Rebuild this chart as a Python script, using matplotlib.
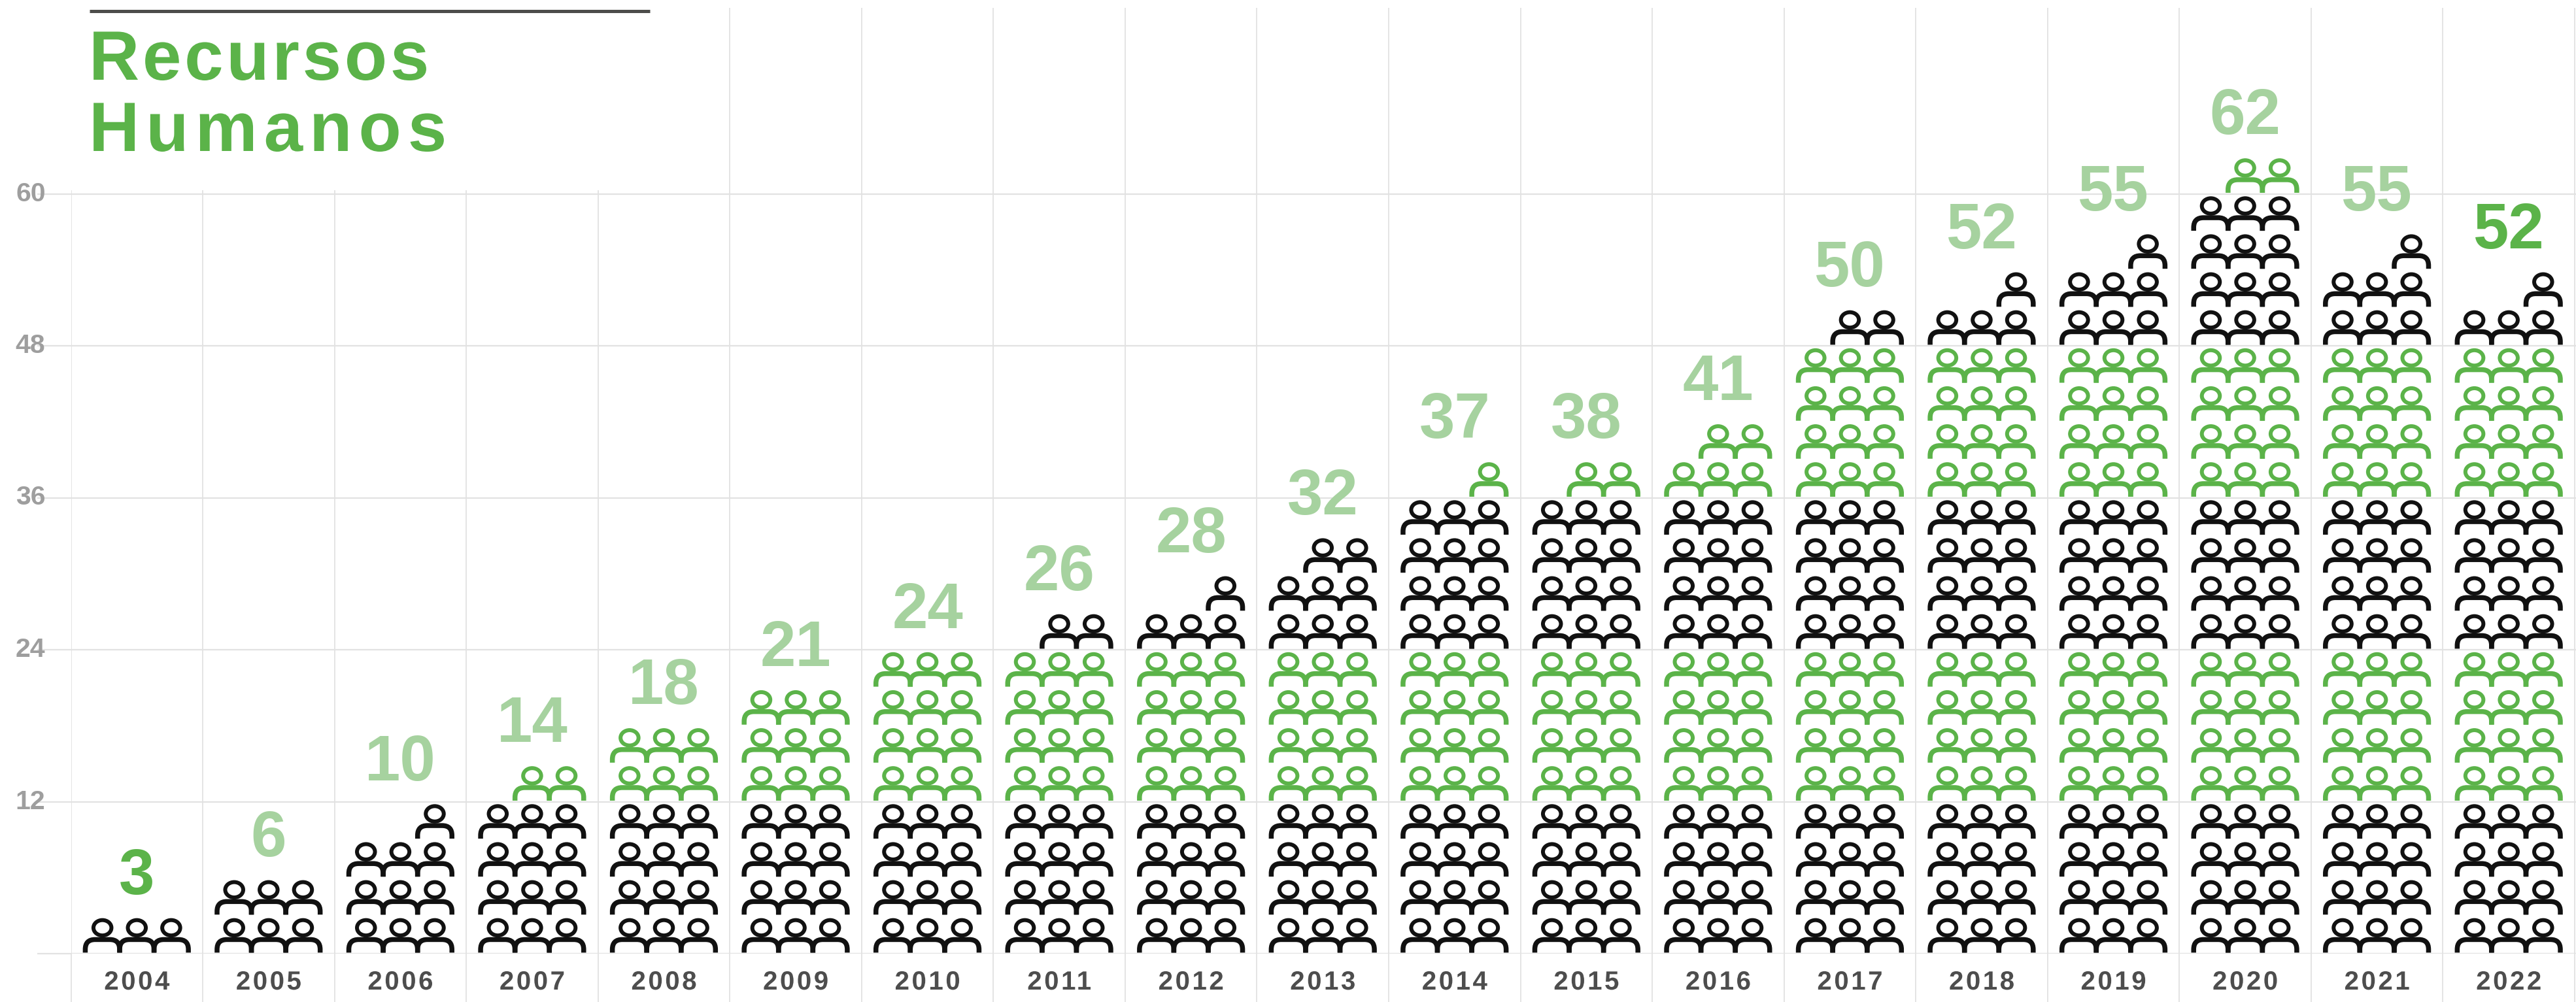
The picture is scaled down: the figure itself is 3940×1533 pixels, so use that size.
import matplotlib

matplotlib.use("Agg")

import matplotlib.pyplot as plt
from matplotlib.lines import Line2D
from matplotlib.patches import PathPatch, Rectangle
from matplotlib.path import Path
from matplotlib.patheffects import AbstractPathEffect
from matplotlib.transforms import Affine2D, IdentityTransform, ScaledTranslation
import numpy as np

YEARS = [2004, 2005, 2006, 2007, 2008, 2009, 2010, 2011, 2012, 2013,
         2014, 2015, 2016, 2017, 2018, 2019, 2020, 2021, 2022]
STAFF = [3, 6, 10, 14, 18, 21, 24, 26, 28, 32, 37, 38, 41, 50, 52, 55, 62, 55, 52]
HIGHLIGHT = [2004, 2022]
Y_TICKS = [0, 12, 24, 36, 48, 60]
Y_LABELS = ["", "12", "24", "36", "48", "60"]
TITLE_LINES = ["Recursos", "Humanos"]

WIDTH, HEIGHT = 3941, 1533
DPI = 100
PT = 72 / DPI

GREEN = "#5bb349"
LIGHT_GREEN = "#a6d29f"
BLACK = "#111111"
GRID = "#e2e2e2"
TICK_GREY = "#9e9e9e"
YEAR_GREY = "#4d4d4d"
FONT = "Liberation Sans"

PER_ROW = 3
ROWS_PER_BAND = 4

# axes box, in pixels of the output
LEFT, RIGHT = 108.5, 3941
BASE, TOP = 1459, 12
PX_PER_COL = 201.55
PX_PER_UNIT = 19.375


class LetterSpacing(AbstractPathEffect):
    # matplotlib has no tracking, so pull the glyphs of one text path apart
    def __init__(self, spacing, centered=False):
        super().__init__()
        self.spacing = spacing
        self.centered = centered

    def draw_path(self, renderer, gc, tpath, affine, rgbFace=None):
        vertices = affine.transform(tpath.vertices)
        codes = tpath.codes
        starts = list(np.flatnonzero(codes == Path.MOVETO)) + [len(codes)]
        # contours whose x ranges overlap belong to one glyph
        spans = []
        for a, b in zip(starts[:-1], starts[1:]):
            drawn = codes[a:b] != Path.CLOSEPOLY
            xs = vertices[a:b, 0][drawn]
            spans.append((xs.min(), xs.max(), a, b))
        spans.sort()
        glyph = -1
        reach = -np.inf
        moved = []
        for low, high, a, b in spans:
            if low > reach:
                glyph += 1
            reach = max(reach, high)
            moved.append((glyph, a, b))
        shift = glyph / 2 if self.centered else 0
        out = vertices.copy()
        for number, a, b in moved:
            out[a:b, 0] += (number - shift) * self.spacing
        renderer.draw_path(gc, Path(out, codes), IdentityTransform(), rgbFace)


def person_path():
    # one person in pixels, origin at the middle of the feet
    head = Path.unit_circle().transformed(
        Affine2D().scale(13.75, 11.75).translate(0, 38)
    )
    half, rise, corner = 26.25, 20, 15
    body = Path(
        [(-half, 0), (-half, rise - corner), (-half, rise), (-half + corner, rise),
         (half - corner, rise), (half, rise), (half, rise - corner), (half, 0)],
        [Path.MOVETO, Path.LINETO, Path.CURVE3, Path.CURVE3,
         Path.LINETO, Path.CURVE3, Path.CURVE3, Path.LINETO],
    )
    return head, body


def draw_people(axis, column, count):
    head, body = person_path()
    rows = int(np.ceil(count / PER_ROW))
    for row in range(rows):
        in_row = min(PER_ROW, count - row * PER_ROW)
        color = GREEN if (row // ROWS_PER_BAND) % 2 else BLACK
        for slot in range(PER_ROW - in_row, PER_ROW):
            x = column + 0.5 + (slot - 1) * 52.6 / PX_PER_COL
            y = row * PER_ROW + 0.08
            place = (
                Affine2D().scale(1 / PX_PER_COL, 1 / PX_PER_UNIT).translate(x, y)
                + axis.transData
            )
            for path, width in ((head, 6), (body, 7.5)):
                axis.add_patch(PathPatch(
                    path, transform=place, facecolor="none", edgecolor=color,
                    linewidth=width * PT, capstyle="butt", zorder=3,
                ))
    return rows * PER_ROW


figure = plt.figure(figsize=(WIDTH / DPI, HEIGHT / DPI), dpi=DPI, facecolor="white")
axis = figure.add_axes([
    LEFT / WIDTH,
    (HEIGHT - BASE) / HEIGHT,
    (RIGHT - LEFT) / WIDTH,
    (BASE - TOP) / HEIGHT,
])
axis.set_xlim(0, (RIGHT - LEFT) / PX_PER_COL)
axis.set_ylim(0, (BASE - TOP) / PX_PER_UNIT)
axis.set_axisbelow(True)
for spine in axis.spines.values():
    spine.set_visible(False)

positions = np.arange(len(YEARS))

# vertical grid runs on down to the picture's edge as long ticks
axis.set_xticks(np.arange(len(YEARS) + 1))
axis.set_xticklabels([])
axis.set_xticks(positions + 0.5, minor=True)
axis.set_xticklabels([str(y) for y in YEARS], minor=True, fontsize=29, family=FONT,
                     fontweight="bold", color=YEAR_GREY)
axis.tick_params(axis="x", which="major", length=(HEIGHT - BASE) * PT, width=1.3, color=GRID)
axis.tick_params(axis="x", which="minor", length=0, pad=25 * PT)
axis.grid(True, axis="x", which="major", color=GRID, linewidth=1.3)
for label in axis.get_xticklabels(minor=True):
    label.set_path_effects([LetterSpacing(3.5, centered=True)])

axis.set_yticks(Y_TICKS)
axis.set_yticklabels(Y_LABELS, fontsize=29.5, family=FONT, fontweight="bold", color=TICK_GREY)
axis.tick_params(axis="y", length=52 * PT, width=1.6, color=GRID, pad=-13 * PT)
axis.grid(True, axis="y", color=GRID, linewidth=1.6)
lift = ScaledTranslation(0, 4 / DPI, figure.dpi_scale_trans)
for label in axis.get_yticklabels():
    label.set_transform(label.get_transform() + lift)

# the title sits on a white box that hides the first grid lines
axis.add_patch(Rectangle((-0.1, 60.26), 4.5, 20, facecolor="white", edgecolor="none",
                         zorder=1, clip_on=False))

for index, (year, count) in enumerate(zip(YEARS, STAFF)):
    stack_top = draw_people(axis, index, count)
    axis.text(index + 0.5, stack_top + 1.7, str(count), ha="center", va="baseline",
              fontsize=70.5, family=FONT, fontweight="bold",
              color=GREEN if year in HIGHLIGHT else LIGHT_GREEN, zorder=4)

figure.add_artist(Line2D([137 / WIDTH, 994 / WIDTH], [1 - 16.5 / HEIGHT] * 2,
                         color="#4d4d4b", linewidth=5 * PT, solid_capstyle="butt"))
for line, baseline, tracking in zip(TITLE_LINES, (122, 231), (4.7, 10)):
    text = figure.text(136 / WIDTH, 1 - baseline / HEIGHT, line, fontsize=77, family=FONT,
                       fontweight="bold", color=GREEN, ha="left", va="baseline")
    text.set_path_effects([LetterSpacing(tracking)])

figure.savefig("out.png", dpi=DPI, facecolor="white")
plt.close(figure)
